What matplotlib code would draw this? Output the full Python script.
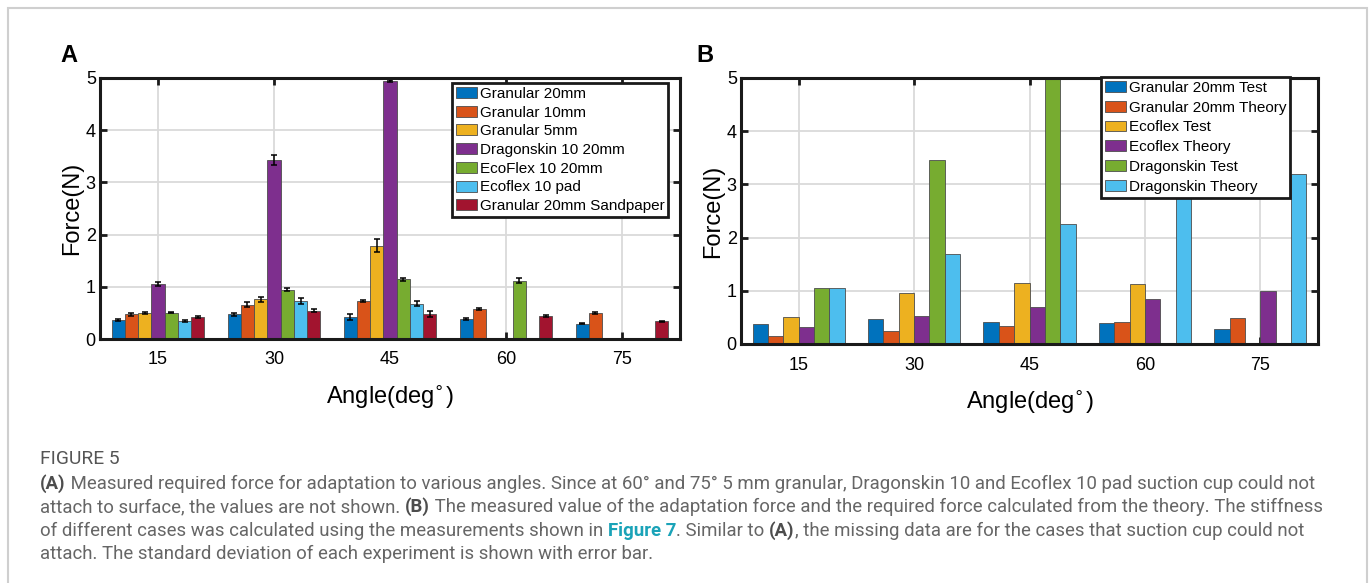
import numpy as np
import matplotlib
matplotlib.use('Agg')
import matplotlib.pyplot as plt
from matplotlib.patches import Rectangle

plt.rcParams['font.family'] = ['Liberation Sans', 'DejaVu Sans']

# Datos
angles = ['15', '30', '45', '60', '75']

nan = np.nan
# Panel A (media y desviacion estandar)
a_labels = ['Granular 20mm', 'Granular 10mm', 'Granular 5mm', 'Dragonskin 10 20mm',
            'EcoFlex 10 20mm', 'Ecoflex 10 pad', 'Granular 20mm Sandpaper']
gran20 = [0.37, 0.47, 0.42, 0.39, 0.29]
gran20_err = [0.02, 0.02, 0.05, 0.02, 0.01]
gran10 = [0.47, 0.66, 0.73, 0.58, 0.49]
gran10_err = [0.02, 0.04, 0.02, 0.02, 0.02]
gran5 = [0.50, 0.76, 1.79, nan, nan]
gran5_err = [0.02, 0.05, 0.13, nan, nan]
dragon20 = [1.05, 3.43, 4.95, nan, nan]
dragon20_err = [0.04, 0.10, 0.02, nan, nan]
eco20 = [0.50, 0.94, 1.14, 1.12, nan]
eco20_err = [0.01, 0.03, 0.02, 0.05, nan]
ecopad = [0.35, 0.73, 0.68, nan, nan]
ecopad_err = [0.02, 0.05, 0.04, nan, nan]
sandpaper = [0.43, 0.54, 0.48, 0.44, 0.34]
sandpaper_err = [0.02, 0.03, 0.05, 0.02, 0.01]

# Panel B (ensayo vs teoria)
b_labels = ['Granular 20mm Test', 'Granular 20mm Theory', 'Ecoflex Test',
            'Ecoflex Theory', 'Dragonskin Test', 'Dragonskin Theory']
gran_test = [0.37, 0.47, 0.42, 0.39, 0.29]
gran_theory = [0.15, 0.25, 0.33, 0.41, 0.48]
eco_test = [0.50, 0.95, 1.15, 1.12, nan]
eco_theory = [0.32, 0.52, 0.69, 0.84, 0.99]
dragon_test = [1.06, 3.45, 5.00, nan, nan]
dragon_theory = [1.06, 1.69, 2.25, 2.85, 3.20]

colors = ['#0072BD', '#D95319', '#EDB120', '#7E2F8E', '#77AC30', '#4DBEEE', '#A2142F']

W, H = 1372, 583
fig = plt.figure(figsize=(W / 100, H / 100), dpi=100)


def grouped_bars(ax, series, errs, labels):
    n = len(series)
    x = np.arange(1, len(angles) + 1)
    w = 0.8 / n
    for i, vals in enumerate(series):
        off = (i - (n - 1) / 2) * w
        ax.bar(x + off, vals, width=w, color=colors[i], edgecolor='#4d4d4d',
               linewidth=0.6, label=labels[i], zorder=2)
        if errs is not None:
            ax.errorbar(x + off, vals, yerr=errs[i], fmt='none', ecolor='black',
                        elinewidth=1.1, capsize=2.2, capthick=1.1, zorder=3)
    # rejilla estilo MATLAB, detras de las barras
    for yy in range(1, 5):
        ax.axhline(yy, color='#dadada', lw=1.3, zorder=0.5)
    for xx in x:
        ax.axvline(xx, color='#dadada', lw=1.3, zorder=0.5)
    ax.set_xlim(0.5, 5.5)
    ax.set_ylim(0, 5)
    ax.set_xticks(x)
    ax.set_xticklabels(angles)
    ax.set_yticks(range(0, 6))
    ax.tick_params(direction='in', length=5, width=2, top=True, right=True,
                   labelsize=13, color='#1a1a1a', zorder=5)
    ax.tick_params(axis='x', pad=9)
    ax.tick_params(axis='y', pad=3)
    for s in ax.spines.values():
        s.set_linewidth(2.2)
        s.set_color('#1a1a1a')
        s.set_zorder(6)
    ax.set_xlabel(r'Angle(deg$^{\circ}$)', fontsize=17, labelpad=11)
    ax.set_ylabel('Force(N)', fontsize=17, labelpad=2)


def legend(ax, anchor, spacing):
    leg = ax.legend(loc='upper left', bbox_to_anchor=anchor, fontsize=11,
                    handlelength=1.4, handleheight=0.72, handletextpad=0.15,
                    labelspacing=spacing, borderpad=0.25, borderaxespad=0, fancybox=False,
                    framealpha=1, edgecolor='#1a1a1a')
    leg.get_frame().set_linewidth(2)
    leg.set_zorder(7)
    return leg


# Panel A
axA = fig.add_axes([100 / W, 1 - 339 / H, 580 / W, 261 / H])
grouped_bars(axA, [gran20, gran10, gran5, dragon20, eco20, ecopad, sandpaper],
             [gran20_err, gran10_err, gran5_err, dragon20_err, eco20_err, ecopad_err, sandpaper_err],
             a_labels)
legend(axA, (0.607, 0.981), 0.31)

# Panel B
axB = fig.add_axes([741 / W, 1 - 344 / H, 577 / W, 266 / H])
grouped_bars(axB, [gran_test, gran_theory, eco_test, eco_theory, dragon_test, dragon_theory],
             None, b_labels)
legend(axB, (0.624, 1.004), 0.38)

# Letras de panel
fig.text(60 / W, 1 - 62 / H, 'A', fontsize=17, fontweight='bold', va='baseline')
fig.text(696 / W, 1 - 62 / H, 'B', fontsize=17, fontweight='bold', va='baseline')

# Marco exterior
fig.add_artist(Rectangle((8 / W, -0.1), 1359 / W, (H - 8) / H + 0.1,
                         transform=fig.transFigure, fill=False,
                         edgecolor='#cfcfcf', linewidth=1.5))

# Pie de figura
renderer = fig.canvas.get_renderer()
cap_font = ['Roboto', 'DejaVu Sans']
gray = '#666666'
dark = '#4d4d4d'
teal = '#1aa3b8'
fs = 13.4
normal = dict(color=gray, fontsize=fs, family=cap_font)
bold = dict(color=dark, fontsize=fs, family=cap_font, fontweight='bold')
link = dict(color=teal, fontsize=fs, family=cap_font, fontweight='bold')


def draw_runs(y_px, runs, x_px=40):
    x = x_px
    for txt, kw in runs:
        t = fig.text(x / W, 1 - y_px / H, txt, va='baseline', ha='left', **kw)
        x += t.get_window_extent(renderer).width


fig.text(40 / W, 1 - 464 / H, 'FIGURE 5', color='#555555', fontsize=13.9,
         family=cap_font, va='baseline')
draw_runs(489, [('(A)', bold),
                (' Measured required force for adaptation to various angles. Since at 60\u00b0 and 75\u00b0 '
                 '5 mm granular, Dragonskin 10 and Ecoflex 10 pad suction cup could not', normal)])
draw_runs(512, [('attach to surface, the values are not shown. ', normal), ('(B)', bold),
                (' The measured value of the adaptation force and the required force calculated '
                 'from the theory. The stiffness', normal)])
draw_runs(536, [('of different cases was calculated using the measurements shown in ', normal),
                ('Figure 7', link), ('. Similar to ', normal), ('(A)', bold),
                (', the missing data are for the cases that suction cup could not', normal)])
draw_runs(559, [('attach. The standard deviation of each experiment is shown with error bar.', normal)])

fig.savefig('out.png', dpi=100)
